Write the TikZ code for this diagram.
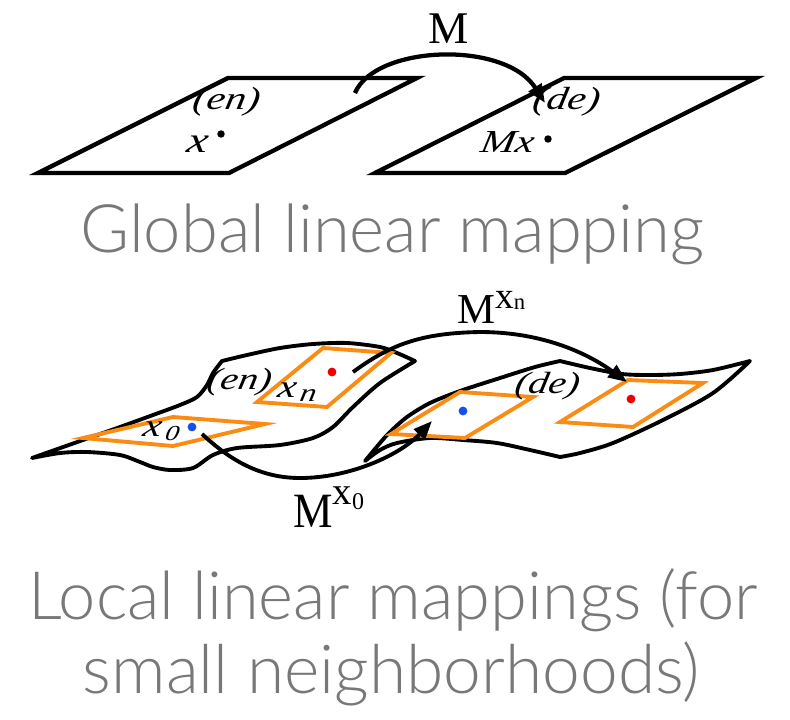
\documentclass[tikz,border=0pt]{standalone}
\usepackage{fontspec}
\usepackage{graphicx}
\setmainfont{Liberation Serif}
\newfontfamily\lblfont[ItalicFeatures={FakeSlant=0.18,FakeStretch=1.3}]{Liberation Serif}
\newfontfamily\mfont[FakeStretch=0.9]{Liberation Serif}
\IfFontExistsTF{Lato Light}{\newfontfamily\capfont{Lato Light}}{\newfontfamily\capfont{Open Sans}}
\usetikzlibrary{arrows.meta}
\definecolor{capgray}{RGB}{120,120,120}
\definecolor{nbhd}{RGB}{250,140,20}
\definecolor{dotred}{RGB}{235,0,0}
\definecolor{dotblue}{RGB}{20,80,240}
\begin{document}
\begin{tikzpicture}[x=0.75pt,y=-0.75pt,
  plane/.style={draw=black,line width=3.2pt,line join=miter},
  sheet/.style={draw=black,fill=white,line width=2.9pt,line join=round},
  nbh/.style={draw=nbhd,line width=2.9pt,line join=miter},
  maparrow/.style={draw=black,line width=2.9pt,-{Triangle[length=14pt,width=11pt]}},
  lbl/.style={inner sep=0pt,font=\lblfont\fontsize{24}{26}\selectfont\itshape},
  mlabel/.style={inner sep=0pt,anchor=base west,font=\fontsize{32}{34}\selectfont},
  captext/.style={inner sep=0pt,anchor=base,text=capgray,font=\capfont\fontsize{40}{44}\selectfont}]
\useasboundingbox (0,0) rectangle (790,719);

% ---------- global linear mapping ----------
\draw[plane] (38,173) -- (229,173) -- (417,78) -- (228,78) -- cycle;
\draw[plane] (375,173) -- (565,173) -- (756,78) -- (564,78) -- cycle;
\node[lbl] (en1) at (225,102) {(en)};
\node[lbl] (de1) at (565,102) {(de)};
\node[lbl,font=\lblfont\fontsize{27}{29}\selectfont\itshape] (x1) at (196,144) {x};
\node[lbl] (mx1) at (506,142) {Mx};
\fill[black] (221,134) circle[radius=2.8pt];
\fill[black] (548,139) circle[radius=2.8pt];
\coordinate (mS) at (355,93);
\coordinate (mE) at (545,103);
\draw[maparrow,line width=3.2pt] (mS) .. controls (375,45) and (505,40) .. (mE);
\node[mlabel,font=\fontsize{34}{36}\selectfont] (M) at (428,43) {M};
\node[captext] (cap1) at (392.5,252) {\resizebox{468pt}{!}{Global linear mapping}};

% ---------- local linear mappings ----------
\draw[sheet] plot[smooth,tension=0.5] coordinates {(32,458) (83,440) (120,427) (153,415) (180,405) (197,397) (207,385) (213,373) (222,361)}
  -- plot[smooth,tension=0.5] coordinates {(222,361) (247,355) (280,348) (313,344) (347,343) (380,347) (397,353) (415,361)}
  -- plot[smooth,tension=0.5] coordinates {(415,361) (380,383) (353,407) (333,427) (313,438) (280,445) (237,448) (213,455) (193,468) (170,470) (153,467) (140,462) (120,455) (87,452) (60,453) (32,458)} -- cycle;
\draw[sheet] plot[smooth,tension=0.5] coordinates {(365,461) (380,443) (390,432) (407,417) (430,403) (460,391) (500,378) (535,367) (560,361)}
  -- plot[smooth,tension=0.5] coordinates {(560,361) (590,368) (622,374) (650,375) (680,374) (713,370) (750,361)}
  -- plot[smooth,tension=0.5] coordinates {(750,361) (713,393) (663,420) (613,443) (580,453) (560,457)}
  -- plot[smooth,tension=0.5] coordinates {(560,457) (530,450) (497,443) (463,440) (430,438) (397,443) (380,450) (365,461)} -- cycle;

\draw[nbh] (83,438) -- (173,446) -- (265,424) -- (173,417) -- cycle;
\draw[nbh] (257,402) -- (327,407) -- (391,353) -- (323,348) -- cycle;
\draw[nbh] (391,434) -- (465,438) -- (533,397) -- (460,392) -- cycle;
\draw[nbh] (560,422) -- (633,427) -- (703,383) -- (628,380) -- cycle;

\fill[dotblue] (192,427) circle[radius=3.3pt];
\fill[dotred] (332,372) circle[radius=3.3pt];
\fill[dotblue] (463,411) circle[radius=3.3pt];
\fill[dotred] (631,399) circle[radius=3.3pt];

\node[lbl,font=\lblfont\fontsize{23}{25}\selectfont\itshape] (en2) at (238,382) {(en)};
\node[lbl,font=\lblfont\fontsize{23}{25}\selectfont\itshape] (de2) at (546,386) {(de)};
\node[lbl,font=\lblfont\fontsize{24}{26}\selectfont\itshape] (xn) at (296,392) {x\kern3pt\raisebox{-3pt}{\fontsize{19}{21}\selectfont n}};
\node[lbl,font=\lblfont\fontsize{24}{26}\selectfont\itshape] (x0) at (160,431) {x\kern3pt\raisebox{-3pt}{\fontsize{16}{18}\selectfont 0}};

\coordinate (nS) at (353,372);
\coordinate (nE) at (627,382);
\draw[maparrow] (nS) .. controls (390,345) and (420,333) .. (480,332) .. controls (545,332) and (590,355) .. (nE);
\coordinate (oS) at (202,434);
\coordinate (oE) at (432,421);
\draw[maparrow] (oS) .. controls (230,460) and (260,478) .. (300,478) .. controls (350,478) and (400,455) .. (oE);

\node[mlabel] (Mxn) at (457,323) {M\raisebox{11pt}{\fontsize{28}{30}\selectfont x\raisebox{-1pt}{\fontsize{17}{19}\selectfont n}}};
\node[mlabel] (Mx0) at (293,527) {{\mfont\fontsize{37}{39}\selectfont M}\raisebox{17pt}{\fontsize{29}{31}\selectfont x\raisebox{-3.5pt}{\fontsize{18}{20}\selectfont 0}}};

\node[captext] (cap2) at (393,619) {\resizebox{547pt}{!}{Local linear mappings (for}};
\node[captext] (cap3) at (391.5,693) {\resizebox{463pt}{!}{small neighborhoods)}};
\end{tikzpicture}
\end{document}
